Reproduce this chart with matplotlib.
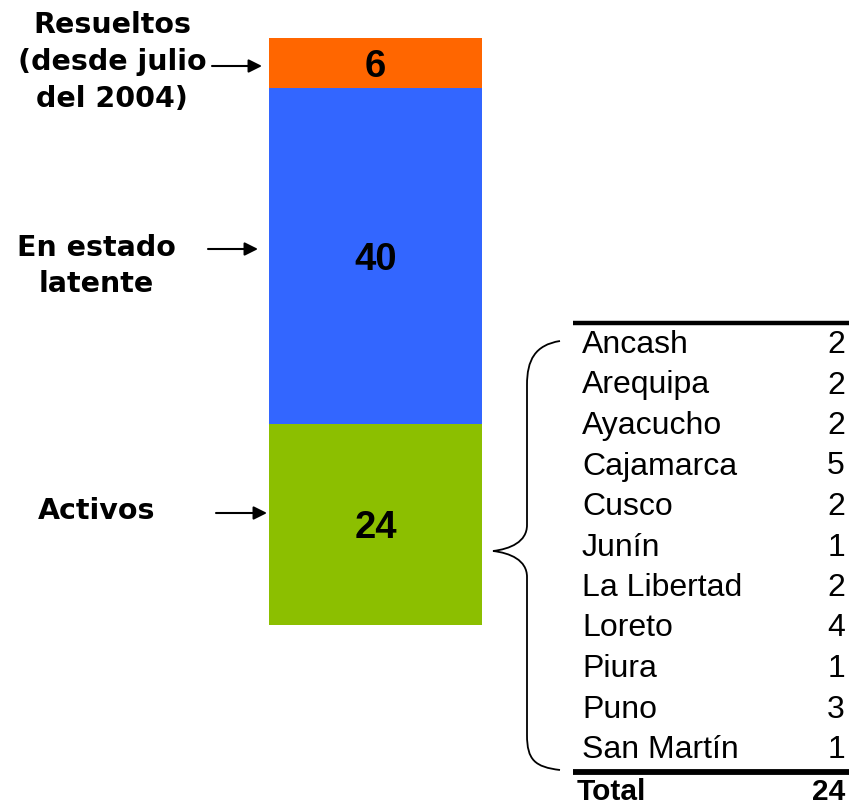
import matplotlib
matplotlib.use("Agg")
import matplotlib.pyplot as plt
from matplotlib.path import Path
from matplotlib.patches import PathPatch

# ---- data ----
segments = ["Activos", "En estado\nlatente", "Resueltos\n(desde julio\ndel 2004)"]
segment_values = [24, 40, 6]
segment_colors = ["#8CBF00", "#3366FF", "#FF6600"]

regions = ["Ancash", "Arequipa", "Ayacucho", "Cajamarca", "Cusco", "Junín",
           "La Libertad", "Loreto", "Piura", "Puno", "San Martín"]
region_counts = [2, 2, 2, 5, 2, 1, 2, 4, 1, 3, 1]
total_label = "Total"
total_value = 24  # as printed in the source table

W, H = 849, 806
fig = plt.figure(figsize=(W / 100, H / 100), dpi=100)
fig.patch.set_facecolor("white")

# overlay axes in pixel coordinates
ov = fig.add_axes([0, 0, 1, 1])
ov.set_xlim(0, W)
ov.set_ylim(H, 0)
ov.axis("off")

# bar axes
bx0, bx1, by_top, by_bot = 269, 482, 38, 625
bax = fig.add_axes([bx0 / W, (H - by_bot) / H, (bx1 - bx0) / W, (by_bot - by_top) / H])
bax.set_xlim(-0.5, 0.5)
bax.set_ylim(0, sum(segment_values))
bax.axis("off")

bottom = 0
for name, v, c in zip(segments, segment_values, segment_colors):
    bax.bar(0, v, width=1.0, bottom=bottom, color=c, edgecolor="none")
    mid = bottom + v / 2
    bax.text(0.0, mid, str(v), ha="center", va="center_baseline", fontsize=27.5,
             fontweight="bold", family="Liberation Sans", color="black")
    bottom += v

# side labels (pixel layout)
label_fs = 20.5
label_pos = {
    segments[0]: (97, 511, 216, 267, 513),
    segments[1]: (96, 266, 208, 258, 249),
    segments[2]: (112, 62, 212, 262, 66),
}
for name in segments:
    cx, cy, ax0, ax1, ay = label_pos[name]
    ov.text(cx, cy, name, ha="center", va="center", fontsize=label_fs,
            fontweight="bold", family="DejaVu Sans", linespacing=1.4,
            multialignment="center")
    ov.annotate("", xy=(ax1, ay), xytext=(ax0, ay),
                arrowprops=dict(arrowstyle="-|>", color="black", lw=1.5,
                                mutation_scale=20, shrinkA=0, shrinkB=0))

# table
tx_left, tx_right = 582, 845
row0, row_step = 345, 40.5
tfs = 23
ov.plot([573, 849], [323, 323], color="black", lw=3.2, solid_capstyle="butt")
for i, (r, n) in enumerate(zip(regions, region_counts)):
    y = row0 + i * row_step
    ov.text(tx_left, y, r, ha="left", va="center", fontsize=tfs,
            family="Liberation Sans")
    ov.text(tx_right, y, str(n), ha="right", va="center", fontsize=tfs,
            family="Liberation Sans")
ov.plot([573, 849], [772, 772], color="black", lw=4.2, solid_capstyle="butt")
ov.text(577, 805.5, total_label, ha="left", va="bottom", fontsize=21.5,
        family="Liberation Sans", fontweight="bold")
ov.text(tx_right, 805.5, str(total_value), ha="right", va="bottom",
        fontsize=21.5, family="Liberation Sans", fontweight="bold")

# brace
verts = [
    (560, 341),
    (535, 345), (527, 360), (527, 385),
    (527, 525),
    (527, 542), (510, 549), (493, 551),
    (510, 553), (527, 560), (527, 577),
    (527, 735),
    (527, 760), (535, 767), (560, 770),
]
codes = [Path.MOVETO,
         Path.CURVE4, Path.CURVE4, Path.CURVE4,
         Path.LINETO,
         Path.CURVE4, Path.CURVE4, Path.CURVE4,
         Path.CURVE4, Path.CURVE4, Path.CURVE4,
         Path.LINETO,
         Path.CURVE4, Path.CURVE4, Path.CURVE4]
ov.add_patch(PathPatch(Path(verts, codes), facecolor="none", edgecolor="black", lw=1.3))

fig.savefig("out.png", dpi=100, facecolor="white")
